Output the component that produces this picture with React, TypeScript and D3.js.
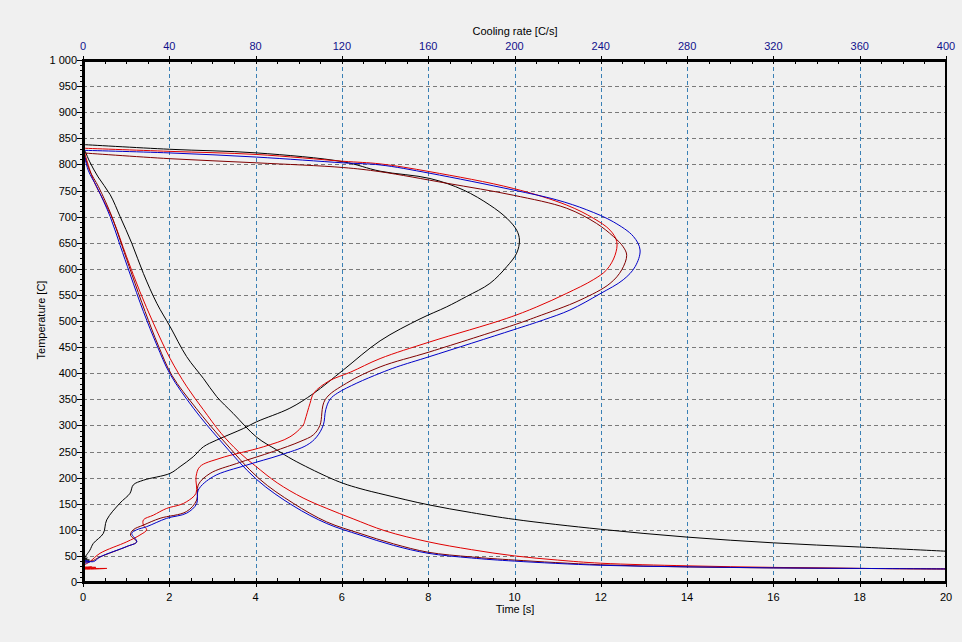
import React from 'react';
import * as d3 from 'd3';

type Pt = [number, number];

// Temperature vs time  [s, C]
const blackTime: Pt[] = [
  [0, 836], [0.15, 806], [0.35, 776], [0.63, 742], [0.86, 700], [1.13, 649], [1.4, 591], [1.71, 534],
  [2.02, 489], [2.4, 432], [2.79, 390], [3.1, 355], [3.48, 323], [4.03, 277], [4.49, 253], [4.87, 234],
  [5.65, 202], [6.03, 189], [6.42, 179], [7, 167], [8, 148], [9, 133], [10, 120], [12, 101], [14, 86],
  [16, 75], [18, 67], [20, 59],
];
const redTime: Pt[] = [
  [0, 833], [0.24, 770], [0.47, 732], [0.7, 693], [1.01, 623], [1.32, 556], [1.63, 496], [2.02, 428],
  [2.4, 375], [2.79, 330], [3.2, 285], [3.6, 250], [4.0, 222], [4.5, 190], [5.1, 161], [5.65, 141],
  [6.26, 121], [7, 98], [8, 77], [9, 62], [10, 50], [11, 42], [12, 36], [14, 31], [16, 28], [18, 26], [20, 25],
];
const maroonTime: Pt[] = [
  [0, 828], [0.15, 789], [0.36, 757], [0.67, 700], [0.9, 645], [1.13, 590], [1.44, 518], [1.75, 452],
  [2.06, 396], [2.62, 333], [3.24, 272], [4.08, 198], [4.87, 151], [5.65, 115], [6.42, 93], [7.2, 73],
  [8, 57], [9, 48], [10, 42], [12, 33], [14, 29], [16, 27], [18, 26], [20, 25],
];
const blueTime: Pt[] = [
  [0, 831], [0.12, 789], [0.32, 757], [0.63, 700], [0.86, 645], [1.09, 590], [1.4, 518], [1.71, 454],
  [2.02, 398], [2.56, 333], [3.17, 272], [4.03, 196], [4.87, 146], [5.65, 112], [6.42, 90], [7.2, 70],
  [8, 55], [9, 46], [10, 40], [12, 32], [14, 29], [16, 27], [18, 26], [20, 25],
];

// Temperature vs cooling rate  [C/s, C]
const blackRate: Pt[] = [
  [0, 838], [40, 829], [80.5, 822], [120.6, 805], [137.7, 787], [160.8, 773], [176.3, 751], [188.6, 722],
  [196.4, 697], [201, 674], [202.3, 655], [201, 630], [196.4, 604], [188.6, 572], [177.8, 547], [168.5, 527],
  [156.2, 504], [137.7, 462], [120.6, 406], [106.8, 361], [95.9, 333], [80.5, 307], [74.3, 294], [62, 272],
  [55.8, 259], [51.1, 240], [45, 221], [40.3, 208], [28, 195], [23.3, 186], [21.8, 170], [17.1, 151],
  [11, 119], [9.4, 93], [4.8, 74], [3.2, 61], [0.9, 45], [3, 42], [0, 40], [2, 46], [0, 44],
];
const redRate: Pt[] = [
  [0, 831], [40, 825], [80.5, 819], [120.6, 806], [137.7, 801], [160.8, 786], [199.4, 754], [224.2, 722],
  [236.5, 697], [244.3, 674], [247.4, 652], [246.6, 626], [242.7, 598], [236.5, 579], [224.2, 553],
  [210.3, 527], [196.4, 505], [160.8, 460], [137.7, 428], [124, 402], [114, 385], [107, 362],
  [105.2, 342], [102.9, 310], [102.1, 301], [95.9, 278], [83.6, 259], [63.5, 237], [54.2, 221], [52.4, 202],
  [52.4, 170], [48.1, 154], [45, 148], [38.8, 141], [32.6, 128], [28, 119], [28, 109], [29.5, 100],
  [26.4, 90], [20.3, 77], [7.9, 55], [3.2, 39], [0, 30], [6, 28], [0, 26], [11, 26], [0, 25], [4, 29], [0, 27],
];
const maroonRate: Pt[] = [
  [0, 822], [40, 811], [80.5, 803], [120.6, 794], [137.7, 786], [168.5, 764], [199.4, 741], [224.2, 716],
  [238, 687], [245.8, 662], [250.4, 642], [252, 626], [249.7, 598], [244.3, 572], [230.4, 540], [210.3, 508],
  [199.4, 492], [160.8, 441], [137.7, 412], [122.2, 381], [112.2, 349], [109.8, 300], [106.8, 282],
  [100.6, 269], [88.2, 250], [71.2, 227], [58.9, 208], [53.4, 186], [52.7, 157], [48, 135], [35.7, 122],
  [28, 109], [23.3, 100], [22, 90], [24.9, 77], [20.3, 68], [7.9, 48], [4, 40], [0, 38],
];
const blueRate: Pt[] = [
  [0, 827], [40, 822], [80.5, 814], [120.6, 803], [137.7, 799], [160.8, 783], [199.4, 751], [219.6, 732],
  [233.5, 713], [245.8, 690], [255.1, 662], [258.2, 636], [255.9, 604], [250.4, 579], [239.6, 552],
  [225.7, 521], [213.4, 502], [199.4, 483], [160.8, 432], [145.4, 412], [137.7, 400], [126.9, 381],
  [118, 362], [114.5, 350], [112.5, 330], [111.4, 301], [108.3, 278], [103.7, 262], [91.3, 243], [75.9, 224],
  [60.4, 202], [53.4, 176], [52.7, 150], [48.1, 132], [38.8, 122], [29.5, 106], [24.9, 100], [22.6, 93],
  [24.9, 77], [20.3, 68], [7.9, 48], [4.8, 39], [0, 42], [3, 38], [0, 36],
];

const series = [
  { color: '#000000', time: blackTime, rate: blackRate },
  { color: '#e00000', time: redTime, rate: redRate },
  { color: '#800000', time: maroonTime, rate: maroonRate },
  { color: '#0000c8', time: blueTime, rate: blueRate },
];

const timeTicks = d3.range(0, 21, 2);
const rateTicks = d3.range(0, 401, 40);
const tempTicks = d3.range(0, 1001, 50);

const W = 962;
const H = 642;
const L = 83, R = 946, T = 60, B = 582;
const font = '"Liberation Sans", Arial, sans-serif';

const fmt = d3.formatLocale({ decimal: '.', thousands: ' ', grouping: [3], currency: ['', ''] }).format(',');

export default function App() {
  const x = d3.scaleLinear().domain([0, 20]).range([L, R]);
  const xr = d3.scaleLinear().domain([0, 400]).range([L, R]);
  const y = d3.scaleLinear().domain([0, 1000]).range([B, T]);

  const lineT = d3.line<Pt>().x(d => x(d[0])).y(d => y(d[1])).curve(d3.curveCatmullRom.alpha(0.5));
  const lineR = d3.line<Pt>().x(d => xr(d[0])).y(d => y(d[1])).curve(d3.curveCatmullRom.alpha(0.5));

  const minorTime = d3.range(0, 20.01, 0.5);
  const minorRate = d3.range(0, 400.01, 10);
  const minorTemp = d3.range(0, 1000.01, 10);

  return (
    <svg width={W} height={H} style={{ position: 'absolute', left: 0, top: 0, fontFamily: font }}>
      <defs>
        <clipPath id="plot">
          <rect x={L} y={T} width={R - L} height={B - T} />
        </clipPath>
      </defs>
      <rect width={W} height={H} fill="#f0f0f0" />

      {/* grid */}
      {tempTicks.filter(v => v > 0 && v < 1000).map(v => (
        <line key={'h' + v} x1={L} x2={R} y1={Math.round(y(v)) + 0.5} y2={Math.round(y(v)) + 0.5}
          stroke="#7a7a7a" strokeDasharray="4,3" shapeRendering="crispEdges" />
      ))}
      {timeTicks.filter(v => v > 0 && v < 20).map(v => (
        <line key={'v' + v} y1={T} y2={B} x1={Math.round(x(v)) + 0.5} x2={Math.round(x(v)) + 0.5}
          stroke="#3a80b5" strokeDasharray="4,3" shapeRendering="crispEdges" />
      ))}

      {/* curves */}
      <g clipPath="url(#plot)" fill="none" strokeWidth={1}>
        {series.map((s, i) => (
          <g key={i} stroke={s.color}>
            <path d={lineT(s.time) || ''} />
            <path d={lineR(s.rate) || ''} />
          </g>
        ))}
      </g>

      {/* ticks */}
      <g stroke="#000" shapeRendering="crispEdges">
        {minorTime.map(v => (
          <line key={'mt' + v} x1={Math.round(x(v)) + 0.5} x2={Math.round(x(v)) + 0.5} y1={B - 4} y2={B} />
        ))}
        {minorRate.map(v => (
          <line key={'mr' + v} x1={Math.round(xr(v)) + 0.5} x2={Math.round(xr(v)) + 0.5} y1={T} y2={T + 4} />
        ))}
        {minorTemp.map(v => (
          <line key={'my' + v} x1={L - 3} x2={L} y1={Math.round(y(v)) + 0.5} y2={Math.round(y(v)) + 0.5} />
        ))}
        {tempTicks.map(v => (
          <line key={'My' + v} x1={L - 6} x2={L} y1={Math.round(y(v)) + 0.5} y2={Math.round(y(v)) + 0.5} />
        ))}
        {timeTicks.map(v => (
          <line key={'Mt' + v} x1={Math.round(x(v)) + 0.5} x2={Math.round(x(v)) + 0.5} y1={B} y2={B + 5} />
        ))}
        {rateTicks.map(v => (
          <line key={'Mr' + v} x1={Math.round(xr(v)) + 0.5} x2={Math.round(xr(v)) + 0.5} y1={T - 4} y2={T} />
        ))}
      </g>

      {/* frame */}
      <line x1={R} x2={R} y1={T} y2={B} stroke="#000" strokeWidth={2} shapeRendering="crispEdges" />
      <line x1={L - 1} x2={R + 1} y1={T} y2={T} stroke="#000" strokeWidth={3} shapeRendering="crispEdges" />
      <line x1={L - 1} x2={R + 1} y1={B} y2={B} stroke="#000" strokeWidth={3} shapeRendering="crispEdges" />
      <line x1={L} x2={L} y1={T} y2={B + 1} stroke="#000" strokeWidth={3} shapeRendering="crispEdges" />

      {/* tick labels */}
      <g fontSize={11} fill="#000">
        {tempTicks.map(v => (
          <text key={'ly' + v} x={77} y={y(v) + 4} textAnchor="end">{fmt(v)}</text>
        ))}
        {timeTicks.map(v => (
          <text key={'lt' + v} x={x(v)} y={601} textAnchor="middle">{v}</text>
        ))}
      </g>
      <g fontSize={11} fill="#10108c">
        {rateTicks.map(v => (
          <text key={'lr' + v} x={xr(v)} y={50} textAnchor="middle">{v}</text>
        ))}
      </g>

      {/* axis titles */}
      <text x={515} y={35} fontSize={11} textAnchor="middle">Cooling rate [C/s]</text>
      <text x={515} y={613} fontSize={11} textAnchor="middle">Time [s]</text>
      <text transform="translate(45,320) rotate(-90)" fontSize={11} textAnchor="middle">Temperature [C]</text>
    </svg>
  );
}
